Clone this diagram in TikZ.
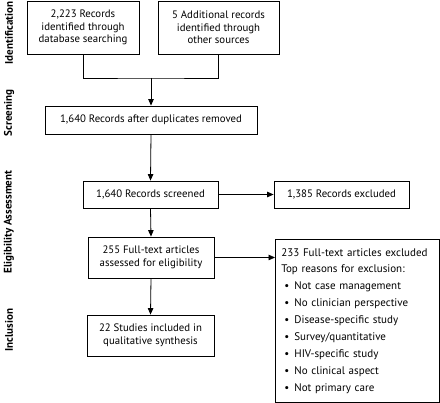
\documentclass[tikz,border=0pt]{standalone}
\usepackage{fontspec}
\setmainfont{PT Sans}
\usetikzlibrary{arrows.meta,positioning}
\tikzset{
  box/.style={draw, line width=0.8pt, align=center, inner sep=0pt, font=\fontsize{10.8}{12.6}\selectfont},
  arr/.style={line width=0.8pt, -{Triangle[length=6.5pt,width=5.5pt]}},
  ln/.style={line width=0.8pt},
  phase/.style={rotate=90, font=\bfseries\fontsize{11}{11}\selectfont}
}
\begin{document}
\begin{tikzpicture}[x=1pt,y=-1pt]
\useasboundingbox (0,0) rectangle (440,403);
\node[phase] (p1) at (9,33) {Identification};
\node[phase] (p2) at (9,113) {Screening};
\node[phase] (p3) at (9,222) {Eligibility Assessment};
\node[phase] (p4) at (9,330) {Inclusion};

\node[box, minimum width=112pt, minimum height=53pt] (b1) at (83,27.5) {2,223 Records\\identified through\\database searching};
\node[box, minimum width=121pt, minimum height=53pt] (b2) at (218.5,27.5) {5 Additional records\\identified through\\other sources};
\node[box, minimum width=212pt, minimum height=28pt] (b3) at (151,120) {1,640 Records after duplicates removed};
\node[box, minimum width=135pt, minimum height=27pt] (b4) at (150.5,194.5) {1,640 Records screened};
\node[box, minimum width=135pt, minimum height=27pt] (b5) at (341.5,194.5) {1,385 Records excluded};
\node[box, minimum width=126pt, minimum height=41pt] (b6) at (151,257.5) {255 Full-text articles\\assessed for eligibility};
\node[box, minimum width=127pt, minimum height=41pt] (b7) at (150.5,335.5) {22 Studies included in\\qualitative synthesis};
\node[box, minimum width=164pt, minimum height=163pt, align=left, text width=152pt, inner xsep=6pt, anchor=north west,
      font=\fontsize{11}{16.9}\selectfont] (b8) at (275,239)
{233 Full-text articles excluded\\
Top reasons for exclusion:\\
\hspace*{3pt}\textbullet\hspace{5pt}Not case management\\
\hspace*{3pt}\textbullet\hspace{5pt}No clinician perspective\\
\hspace*{3pt}\textbullet\hspace{5pt}Disease-specific study\\
\hspace*{3pt}\textbullet\hspace{5pt}Survey/quantitative\\
\hspace*{3pt}\textbullet\hspace{5pt}HIV-specific study\\
\hspace*{3pt}\textbullet\hspace{5pt}No clinical aspect\\
\hspace*{3pt}\textbullet\hspace{5pt}Not primary care};

\coordinate (j) at (151,78);
\draw[ln] (b1.south) |- (j) -| (b2.south);
\draw[arr] (j) -- (b3.north);
\draw[arr] (b3.south) -- (b4.north);
\draw[arr] (b4.east) -- (b5.west);
\draw[arr] (b4.south) -- (b6.north);
\draw[arr] (b6.south) -- (b7.north);
\draw[arr] (b6.east) -- (b8.west |- b6.east);
\end{tikzpicture}
\end{document}
